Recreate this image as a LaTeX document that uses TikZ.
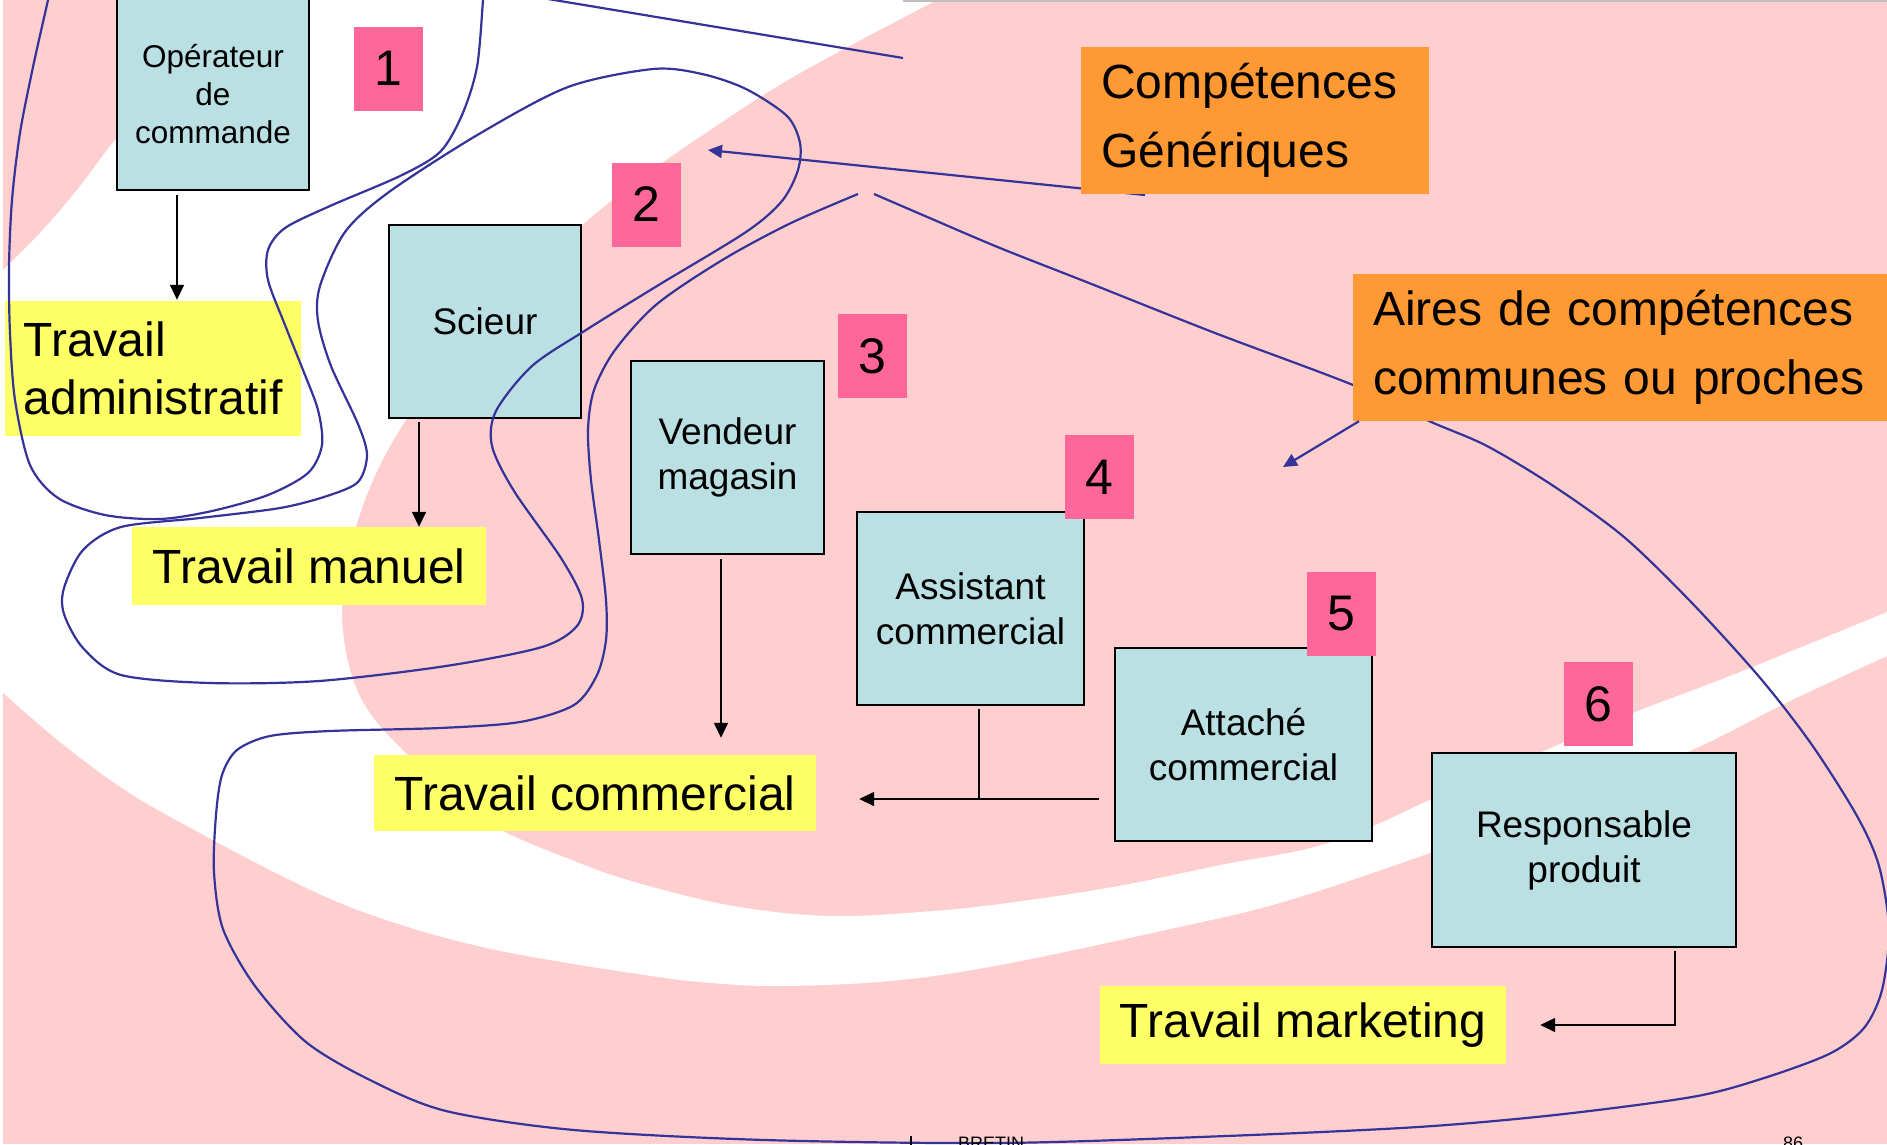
\documentclass[tikz,border=0pt]{standalone}
\usepackage{fontspec}
\setmainfont{Liberation Sans}
\usetikzlibrary{arrows.meta}
\definecolor{bgpink}{RGB}{255,206,206}
\definecolor{boxteal}{RGB}{187,224,227}
\definecolor{numpink}{RGB}{255,102,153}
\definecolor{lblyellow}{RGB}{255,255,102}
\definecolor{lblorange}{RGB}{255,153,51}
\definecolor{curveblue}{RGB}{51,51,153}
\definecolor{topgray}{RGB}{190,190,190}
\begin{document}
\begin{tikzpicture}[x=1pt,y=-1pt,
  jobbox/.style={draw=black,line width=1.8pt,fill=boxteal,align=center,inner sep=0pt,font=\fontsize{37}{45}\selectfont},
  work/.style={fill=lblyellow,inner sep=0pt,align=center,font=\fontsize{48}{57.5}\selectfont},
  gen/.style={fill=lblorange,inner sep=0pt,align=left,font=\fontsize{48}{69}\selectfont},
  num/.style={fill=numpink,inner sep=0pt,minimum width=69pt,minimum height=84pt,font=\fontsize{50}{50}\selectfont},
  blk/.style={draw=black,line width=1.5pt},
  blkarrow/.style={blk,-{Triangle[length=15pt,width=14pt]}},
  bline/.style={draw=curveblue,line width=2.2pt},
  barrow/.style={bline,-{Triangle[length=14pt,width=13pt]}},
  foot/.style={inner sep=0pt,anchor=north west,font=\fontsize{18}{18}\selectfont}
]
\useasboundingbox (0,0) rectangle (1887,1144);
\clip (0,0) rectangle (1887,1144);
% background
\fill[bgpink] (0,0) rectangle (1887,1144);
\fill[white] (233,0) -- (937,0)
  -- plot[smooth,tension=0.6] coordinates {(937,0) (800,73) (710,130) (625,190) (555,250) (480,330) (420,400) (380,465) (355,530) (343,590) (344,640) (355,685) (375,720) (410,757) (455,795) (497,828) (574,861) (638,883) (733,906) (829,916) (920,912) (1000,904) (1113,887) (1226,864) (1311,848) (1373,826) (1430,800) (1530,757) (1633,713) (1735,674) (1887,612)}
  -- (1887,656)
  -- plot[smooth,tension=0.6] coordinates {(1887,656) (1792,700) (1690,751) (1560,805) (1430,853) (1283,902) (1170,929) (1000,965) (890,981) (778,986) (700,982) (638,974) (550,960) (478,946) (408,927) (340,903) (274,872) (200,833) (128,792) (60,742) (0,690)}
  -- (0,273)
  -- plot[smooth,tension=0.5] coordinates {(0,273) (40,233) (77,190) (115,140) (175,70) (233,0)}
  -- cycle;
\fill[white] (0,0) rectangle (3,1144);
\draw[topgray,line width=2pt] (903,1) -- (1887,1);

% yellow work labels
\node[work,minimum width=296pt,minimum height=135pt,align=left] (tadm) at (153,368.5) {Travail\\administratif};
\node[work,minimum width=354pt,minimum height=78pt] (tman) at (309,566) {Travail manuel};
\node[work,minimum width=442pt,minimum height=76pt] (tcom) at (595,793) {Travail commercial};
\node[work,minimum width=406pt,minimum height=78pt] (tmkt) at (1303,1025) {Travail marketing};

% job boxes
\node[jobbox,minimum width=192pt,minimum height=192pt,font=\fontsize{31.5}{38}\selectfont] (op) at (213,94) {Opérateur\\de\\commande};
\node[jobbox,minimum width=192pt,minimum height=193pt] (sc) at (485,321.5) {Scieur};
\node[jobbox,minimum width=193pt,minimum height=193pt] (ve) at (727.5,457.5) {Vendeur\\magasin};
\node[jobbox,minimum width=227pt,minimum height=193pt] (as) at (970.5,608.5) {Assistant\\commercial};
\node[jobbox,minimum width=257pt,minimum height=193pt] (att) at (1243.5,744.5) {Attaché\\commercial};
\node[jobbox,minimum width=304pt,minimum height=194pt] (re) at (1584,850) {Responsable\\produit};

% black connectors
\coordinate (x1) at (177,0);
\draw[blkarrow,shorten <=4pt,shorten >=1pt] (op.south -| x1) -- (tadm.north -| x1);
\coordinate (x2) at (419,0);
\draw[blkarrow,shorten <=3pt] (sc.south -| x2) -- (tman.north -| x2);
\coordinate (x3) at (721,0);
\draw[blkarrow,shorten <=4pt,shorten >=17pt] (ve.south -| x3) -- (tcom.north -| x3);
\coordinate (j1) at (979,799);
\draw[blk,shorten <=3pt] (as.south -| j1) -- (j1);
\draw[blkarrow,shorten <=15pt,shorten >=43pt] (att.west |- j1) -- (tcom.east |- j1);
\coordinate (x6) at (1675,0);
\draw[blkarrow,shorten <=3pt,shorten >=34pt] (re.south -| x6) |- (tmkt.east);

% blue curves
\draw[bline] plot[smooth] coordinates {(52,-20) (48,0) (33,67) (20,133) (12,200) (9,267) (10,333) (15,400) (30,465) (58,498) (105,515) (160,519) (212,511) (268,495) (308,473) (322,445) (318,410) (303,370) (285,325) (268,280) (268,250) (285,228) (330,206) (400,176) (440,152) (462,115) (477,67) (483,0) (484,-20)};
\draw[bline] plot[smooth cycle] coordinates {(653,69) (568,87) (479,134) (389,192) (345,232) (320,286) (318,321) (331,366) (358,424) (367,455) (358,482) (327,496) (280,508) (200,518) (121,527) (83,550) (64,588) (64,614) (83,648) (121,675) (210,683) (319,681) (446,666) (542,647) (577,626) (582,599) (561,558) (514,491) (492,446) (496,411) (532,366) (586,330) (657,286) (746,232) (782,201) (798,170) (800,143) (787,116) (746,89) (702,74)};
\draw[bline] plot[smooth] coordinates {(858,194) (791,223) (724,259) (657,304) (615,350) (594,390) (588,430) (591,480) (599,540) (606,600) (606,640) (597,675) (574,705) (520,722) (440,728) (330,731) (270,736) (237,750) (222,775) (216,815) (214,872) (223,929) (255,986) (306,1042) (370,1080) (446,1111) (574,1130) (765,1140) (1000,1143) (1226,1136) (1418,1127) (1555,1115) (1692,1097) (1761,1079) (1829,1054) (1864,1028) (1882,990) (1889,930) (1879,866) (1857,816) (1812,745) (1761,679) (1692,603) (1624,537) (1555,487) (1487,446) (1429,421) (1353,385) (1215,333) (1089,283) (1000,248) (925,216) (874,194)};
\coordinate (t0) at (548,-1);
\coordinate (t1) at (903,58);
\draw[bline] (t0) -- (t1);
\coordinate (g0) at (1145,195);
\coordinate (g1) at (708,150);
\draw[barrow] (g0) -- (g1);

% orange labels
\node[gen,text width=308pt,inner xsep=20pt,minimum height=147pt] (comp) at (1255,120.5) {Compétences\\Génériques};
\node[gen,text width=520pt,inner xsep=20pt,minimum height=147pt,anchor=west] (aires) at (1353,347.5) {Aires de compétences\\communes ou proches};
\coordinate (g2) at (1283,467);
\draw[barrow] ([xshift=6pt]aires.south west) -- (g2);

% numbers
\node[num] (n1) at (388,68.5) {1};
\node[num] (n2) at (646,204.5) {2};
\node[num] (n3) at (872.5,356) {3};
\node[num] (n4) at (1099.5,477) {4};
\node[num] (n5) at (1341.5,614) {5};
\node[num] (n6) at (1598,704) {6};

% footer (cut off at the bottom, as in the original)
\draw[black,line width=1.2pt] (911,1136) -- (911,1146);
\node[foot] (ft1) at (958,1137) {BRETIN};
\node[foot] (ft2) at (1783,1137) {86};
\end{tikzpicture}
\end{document}
